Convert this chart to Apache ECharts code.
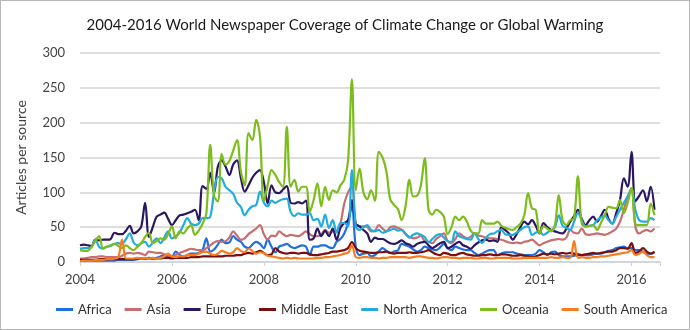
<!DOCTYPE html>
<html><head><meta charset="utf-8">
<script src="https://cdn.jsdelivr.net/npm/echarts@6/dist/echarts.min.js"></script>
<style>html,body{margin:0;padding:0;background:#fff}#c{width:690px;height:330px;box-sizing:border-box;border:1px solid #b8b8b8}</style>
</head><body><div id="c"></div>
<script>
const startYear = 2004;
const yearTicks = [2004, 2006, 2008, 2010, 2012, 2014, 2016];
const seriesNames = ['Africa','Asia','Europe','Middle East','North America','Oceania','South America'];
const colors = ['#1f6fe0','#c86e70','#2a1760','#7a0d0d','#22acde','#7cbd1c','#f77c1e'];

// monthly values, Jan 2004 .. Jul 2016
const africa = [
 2,2,2,2,2,2,2,2,2,2,3,3,
 3,3,3,4,5,5,6,5,6,8,10,8,
 8,15,10,8,10,12,12,13,17,34,15,18,
 25,32,27,28,37,32,29,22,20,25,29,26,
 20,32,22,14,22,24,26,22,20,22,24,22,
 10,22,22,24,24,21,20,29,33,41,56,80,
 22,10,12,13,8,10,15,20,16,13,15,17,
 26,24,22,18,15,17,22,20,18,17,21,26,
 20,17,22,20,18,17,17,13,10,12,15,17,
 17,10,12,14,14,14,12,11,10,10,10,12,
 17,14,10,14,15,10,8,8,8,9,10,10,
 10,10,11,12,12,14,16,17,20,21,22,20,
 20,17,17,15,12,12,14];
const asia = [
 5,5,6,7,7,8,8,7,7,7,7,9,
 12,13,12,13,12,10,15,14,13,13,11,9,
 7,10,13,15,17,19,18,17,17,20,24,28,
 30,29,30,35,44,38,32,34,40,44,48,53,
 40,32,38,37,44,40,37,39,38,37,40,44,
 40,37,37,40,46,42,44,44,55,84,100,108,
 55,51,51,50,44,45,53,48,44,50,51,49,
 46,40,36,34,35,38,30,29,27,33,37,41,
 30,27,33,41,37,34,36,41,38,37,35,34,
 34,33,32,30,28,27,28,27,29,30,32,28,
 24,27,29,31,32,33,32,35,46,42,41,48,
 40,39,40,41,40,39,41,44,48,58,75,94,
 103,51,41,44,46,44,48];
const europe = [
 24,25,24,23,32,31,32,32,33,42,40,40,
 45,52,41,44,51,85,36,50,65,68,71,62,
 53,60,67,68,70,72,75,60,109,105,128,99,
 137,146,137,125,140,146,121,101,110,121,128,132,
 115,84,110,100,99,104,109,85,84,86,84,88,
 32,34,48,37,45,37,48,32,49,56,60,89,
 55,51,46,41,29,35,33,33,30,27,26,28,
 31,27,25,22,26,28,29,24,20,23,27,29,
 20,22,26,29,24,22,19,24,28,31,32,30,
 31,29,50,46,41,32,40,50,58,54,60,52,
 41,56,50,46,44,42,41,48,58,66,75,62,
 53,60,65,58,66,75,62,55,70,89,120,108,
 158,87,95,103,87,108,75];
const middleEast = [
 3,3,3,3,3,4,4,4,4,4,4,4,
 4,4,4,5,5,5,5,5,5,5,6,6,
 5,6,6,6,6,7,7,7,8,8,8,8,
 8,8,9,9,9,10,10,12,13,12,14,16,
 13,10,11,20,15,13,12,13,13,12,13,13,
 11,10,10,11,12,13,15,15,16,17,20,29,
 20,16,15,14,13,13,14,14,15,13,12,13,
 13,13,14,13,13,14,15,17,14,11,10,13,
 12,10,10,12,13,11,10,9,9,10,10,11,
 10,10,11,11,10,9,9,10,9,8,7,8,
 10,12,11,12,11,12,13,12,13,12,11,10,
 11,12,13,12,13,14,15,15,17,20,20,19,
 27,13,15,20,15,12,15];
const northAmerica = [
 19,20,20,21,32,22,19,22,23,26,27,26,
 33,41,28,24,27,29,22,28,34,27,35,44,
 34,37,42,53,63,55,53,55,63,63,65,100,
 122,120,108,103,98,85,79,67,75,80,82,101,
 85,80,88,85,88,90,91,72,66,70,68,68,
 70,60,62,51,68,49,60,42,56,56,51,132,
 51,46,50,53,46,44,46,42,44,46,48,45,
 46,41,35,39,41,39,36,28,33,38,40,35,
 30,29,44,37,35,33,32,41,33,27,35,40,
 41,44,46,40,39,39,42,46,50,51,39,42,
 44,39,42,46,50,67,52,49,46,58,70,60,
 51,52,53,60,64,67,60,55,65,75,85,94,
 106,75,60,58,58,63,60];
const oceania = [
 17,16,16,22,30,37,20,22,24,26,23,20,
 24,20,17,22,27,36,42,27,30,34,32,40,
 51,34,44,41,48,53,39,45,55,70,168,95,
 87,155,140,145,160,175,130,110,185,175,204,180,
 87,110,132,125,115,108,194,108,118,101,108,108,
 72,89,113,80,108,89,103,100,110,118,146,262,
 103,134,100,90,103,88,158,150,130,90,82,76,
 60,80,118,94,95,110,149,75,68,75,72,65,
 40,50,65,60,65,58,45,41,41,60,55,55,
 55,58,52,49,47,46,50,55,67,99,77,75,
 41,51,48,44,53,96,60,53,60,63,123,55,
 51,52,53,46,56,67,79,78,77,89,70,85,
 106,55,53,53,53,84,67];
const southAmerica = [
 1,2,2,2,3,3,3,4,4,5,7,32,
 5,5,5,6,5,6,5,6,5,6,8,12,
 8,7,8,8,10,10,10,12,14,15,12,10,
 12,16,14,12,14,20,16,14,19,16,12,14,
 13,9,8,7,6,5,6,5,6,5,5,5,
 5,5,6,6,7,7,8,9,10,12,13,24,
 7,6,7,7,6,6,5,6,6,7,7,7,
 7,7,6,7,8,8,7,6,6,5,6,7,
 7,6,6,5,6,6,6,5,5,6,6,5,
 5,6,6,6,6,5,5,5,6,6,6,6,
 6,6,6,7,6,6,7,6,6,30,6,7,
 6,6,7,7,8,8,9,10,11,12,13,14,
 17,10,12,15,10,7,7];

const allData = [africa, asia, europe, middleEast, northAmerica, oceania, southAmerica];
const toPairs = arr => arr.map((v, i) => [startYear + i / 12, v]);

const chart = echarts.init(document.getElementById('c'));
chart.setOption({
  animation: false,
  textStyle: { fontFamily: 'Lato, "Open Sans", sans-serif' },
  title: {
    text: '2004-2016 World Newspaper Coverage of Climate Change or Global Warming',
    left: 'center', top: 12,
    textStyle: { fontSize: 15, fontWeight: 'normal', color: '#1a1a1a', fontFamily: 'Lato' }
  },
  grid: { left: 79, right: 29, top: 52, bottom: 67 },
  legend: {
    left: 50, top: 297, width: 660,
    itemWidth: 17, itemHeight: 3, itemGap: 13,
    icon: 'rect',
    textStyle: { fontSize: 13, color: '#333', fontFamily: 'Lato' },
    data: seriesNames
  },
  xAxis: {
    type: 'value', min: 2004, max: 2016.62, interval: 2,
    axisLine: { show: true, lineStyle: { color: '#cdd4dc', width: 1.5 } },
    axisTick: { show: true, length: 4, lineStyle: { color: '#cdd4dc' } },
    splitLine: { show: false },
    axisLabel: {
      fontSize: 13, color: '#444', margin: 11,
      formatter: v => (yearTicks.indexOf(v) >= 0 ? String(v) : '')
    }
  },
  yAxis: {
    type: 'value', min: 0, max: 300, interval: 50,
    name: 'Articles per source', nameLocation: 'middle', nameGap: 52,
    nameTextStyle: { fontSize: 14, color: '#444', fontFamily: 'Lato' },
    axisLine: { show: false }, axisTick: { show: false },
    splitLine: { lineStyle: { color: '#d3d3d3', width: 1.5 } },
    axisLabel: { fontSize: 13, color: '#444', margin: 15 }
  },
  series: seriesNames.map((n, k) => ({
    name: n, type: 'line', data: toPairs(allData[k]),
    smooth: 0.35, showSymbol: false, symbol: 'none',
    lineStyle: { width: 2.2, color: colors[k] },
    itemStyle: { color: colors[k] }
  }))
});
</script></body></html>
